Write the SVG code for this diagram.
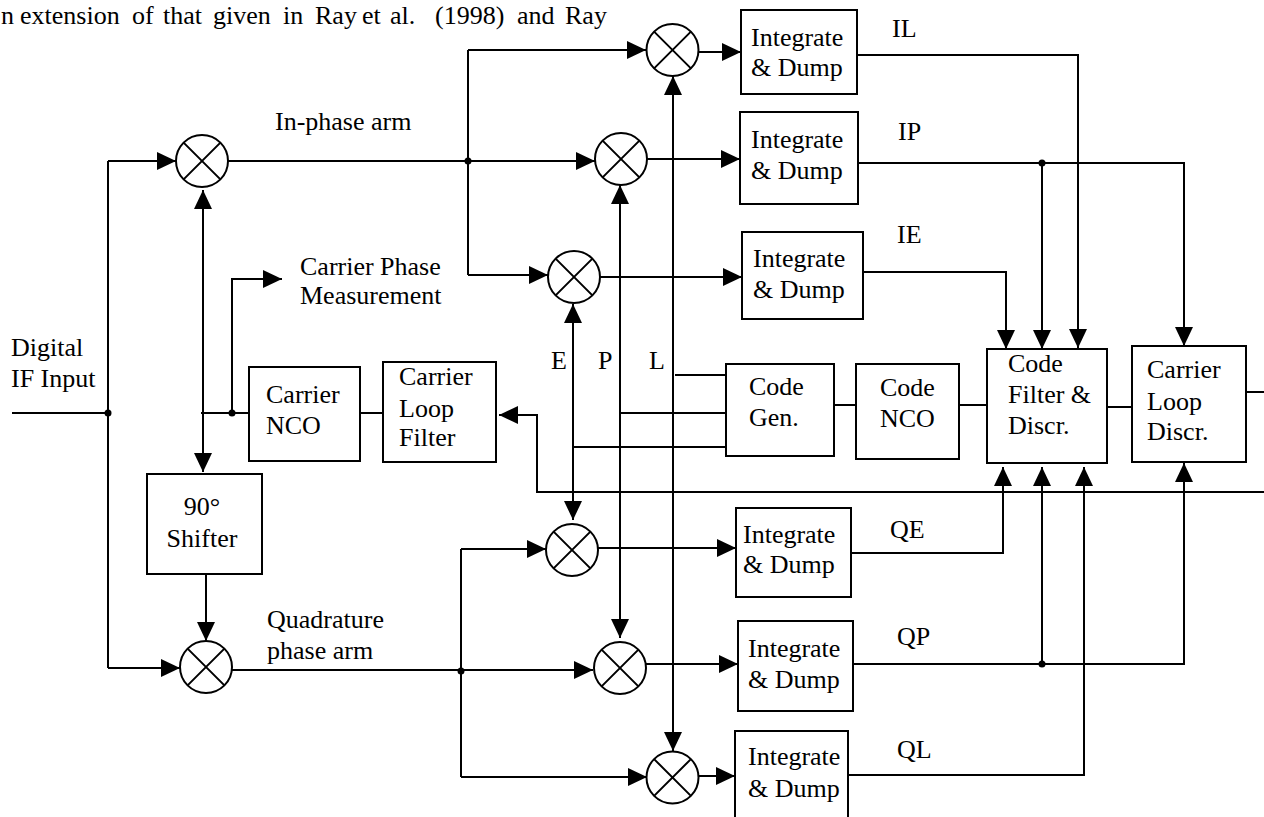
<svg xmlns="http://www.w3.org/2000/svg" width="1264" height="817" viewBox="0 0 1264 817">
<style>
text{font-family:"Liberation Serif","Times New Roman",serif;font-size:26px;fill:#000}
.box{fill:#fff;stroke:#000;stroke-width:2}
.mix{fill:#fff;stroke:#000;stroke-width:2}
.x{stroke:#000;stroke-width:2;fill:none}
.w{fill:none;stroke:#000;stroke-width:2}
.a{fill:none;stroke:#000;stroke-width:2;marker-end:url(#ah)}
.d{fill:none;stroke:#000;stroke-width:2;marker-end:url(#ah);marker-start:url(#ah)}
.dot{fill:#000}
</style>
<defs>
<marker id="ah" markerUnits="userSpaceOnUse" markerWidth="20" markerHeight="18" refX="19" refY="9" orient="auto-start-reverse"><path d="M0,0 L19,9 L0,18 z" fill="#000"/></marker>
<g id="mixer"><circle class="mix" cx="0" cy="0" r="26"/><path class="x" d="M-18.4,-18.4 L18.4,18.4 M-18.4,18.4 L18.4,-18.4"/></g>
</defs>
<text id="caption" y="24"><tspan x="1">n</tspan><tspan x="20">extension</tspan><tspan x="132">of</tspan><tspan x="163">that</tspan><tspan x="213">given</tspan><tspan x="283">in</tspan><tspan x="315">Ray</tspan><tspan x="362">et</tspan><tspan x="390">al.</tspan><tspan x="435">(1998)</tspan><tspan x="517">and</tspan><tspan x="565">Ray</tspan></text>
<g id="connectors">
<path class="w" d="M12,413 H108"/>
<path class="w" d="M108,161 V668"/>
<path class="a" d="M108,161 H176"/>
<path class="a" d="M108,668 H180"/>
<path class="d" d="M203,190 V472"/>
<path class="w" d="M201,413 H249"/>
<path class="a" d="M232,413 V279 H282"/>
<path class="w" d="M360,413 H383"/>
<path class="a" d="M206,574 V641"/>
<path class="w" d="M228,161 H468"/>
<path class="a" d="M468,161 H595"/>
<path class="w" d="M468,50 V275"/>
<path class="a" d="M468,50 H646"/>
<path class="a" d="M468,275 H548"/>
<path class="a" d="M699,52 H741"/>
<path class="a" d="M647,159 H740"/>
<path class="a" d="M600,277 H742"/>
<path class="w" d="M232,670 H461"/>
<path class="a" d="M461,670 H593"/>
<path class="w" d="M461,549 V777"/>
<path class="a" d="M461,549 H546"/>
<path class="a" d="M461,777 H647"/>
<path class="a" d="M598,548 H736"/>
<path class="a" d="M646,664 H738"/>
<path class="a" d="M698,776 H735"/>
<path class="d" d="M573,304 V520"/>
<path class="d" d="M620,185 V638"/>
<path class="d" d="M673,76 V751"/>
<path class="w" d="M573,447 H726"/>
<path class="w" d="M620,413 H726"/>
<path class="w" d="M675,375 H726"/>
<path class="w" d="M834,405 H856"/>
<path class="w" d="M959,405 H987"/>
<path class="w" d="M1107,407 H1132"/>
<path class="w" d="M1246,392 H1264"/>
<path class="a" d="M1264,492 H537 V415 H499"/>
<path class="a" d="M857,55 H1078 V348"/>
<path class="a" d="M858,163 H1184 V346"/>
<path class="a" d="M1042,163 V349"/>
<path class="a" d="M863,272 H1006 V349"/>
<path class="a" d="M851,553 H1003 V467"/>
<path class="a" d="M853,664 H1184 V463"/>
<path class="a" d="M1042,664 V467"/>
<path class="a" d="M848,775 H1084 V467"/>
<circle class="dot" cx="108" cy="413" r="3.5"/>
<circle class="dot" cx="232" cy="413" r="3.5"/>
<circle class="dot" cx="468" cy="161" r="3.5"/>
<circle class="dot" cx="461" cy="671" r="3.5"/>
<circle class="dot" cx="1042" cy="163" r="3.5"/>
<circle class="dot" cx="1042" cy="664" r="3.5"/>
</g>
<g id="mixerI"><use href="#mixer" x="202" y="161"/></g>
<g id="mixerQ"><use href="#mixer" x="206" y="667"/></g>
<g id="mixerIL"><use href="#mixer" x="672.5" y="50"/></g>
<g id="mixerIP"><use href="#mixer" x="621" y="159"/></g>
<g id="mixerIE"><use href="#mixer" x="574" y="277"/></g>
<g id="mixerQE"><use href="#mixer" x="572" y="550"/></g>
<g id="mixerQP"><use href="#mixer" x="620" y="668"/></g>
<g id="mixerQL"><use href="#mixer" x="672.5" y="777.5"/></g>
<g id="shifter"><rect class="box" x="147" y="474" width="115" height="100"/><text x="202" y="515" text-anchor="middle">90°</text><text x="202" y="547" text-anchor="middle">Shifter</text></g>
<g id="carrierNCO"><rect class="box" x="249" y="367" width="111" height="94"/><text x="266" y="403">Carrier</text><text x="266" y="434">NCO</text></g>
<g id="carrierLoopFilter"><rect class="box" x="383" y="362" width="113" height="100"/><text x="399" y="385">Carrier</text><text x="399" y="417">Loop</text><text x="399" y="446">Filter</text></g>
<g id="carrierPhase"><text x="300" y="275">Carrier Phase</text><text x="300" y="304">Measurement</text></g>
<g id="intIL"><rect class="box" x="741" y="10" width="116" height="84"/><text x="751" y="46">Integrate</text><text x="751" y="76">&amp; Dump</text></g>
<g id="intIP"><rect class="box" x="740" y="112" width="118" height="92"/><text x="751" y="148">Integrate</text><text x="751" y="179">&amp; Dump</text></g>
<g id="intIE"><rect class="box" x="742" y="232" width="121" height="87"/><text x="753" y="267">Integrate</text><text x="753" y="298">&amp; Dump</text></g>
<g id="intQE"><rect class="box" x="736" y="508" width="115" height="89"/><text x="743" y="543">Integrate</text><text x="743" y="573">&amp; Dump</text></g>
<g id="intQP"><rect class="box" x="738" y="621" width="115" height="90"/><text x="748" y="657">Integrate</text><text x="748" y="688">&amp; Dump</text></g>
<g id="intQL"><rect class="box" x="735" y="731" width="113" height="95"/><text x="748" y="765">Integrate</text><text x="748" y="797">&amp; Dump</text></g>
<g id="codeGen"><rect class="box" x="726" y="364" width="108" height="92"/><text x="749" y="395">Code</text><text x="749" y="426">Gen.</text></g>
<g id="codeNCO"><rect class="box" x="856" y="364" width="103" height="95"/><text x="880" y="396">Code</text><text x="880" y="427">NCO</text></g>
<g id="codeFilter"><rect class="box" x="987" y="349" width="120" height="114"/><text x="1008" y="372">Code</text><text x="1008" y="403">Filter &amp;</text><text x="1008" y="434">Discr.</text></g>
<g id="carrierLoopDiscr"><rect class="box" x="1132" y="346" width="114" height="116"/><text x="1147" y="378">Carrier</text><text x="1147" y="410">Loop</text><text x="1147" y="440">Discr.</text></g>
<g id="labels">
<text x="275" y="130">In-phase arm</text>
<text x="267" y="628">Quadrature</text>
<text x="267" y="659">phase arm</text>
<text x="11" y="356">Digital</text>
<text x="11" y="387">IF Input</text>
<text x="551" y="369">E</text>
<text x="598" y="369">P</text>
<text x="649" y="369">L</text>
<text x="892" y="37">IL</text>
<text x="898" y="140">IP</text>
<text x="897" y="243">IE</text>
<text x="890" y="538">QE</text>
<text x="897" y="645">QP</text>
<text x="897" y="758">QL</text>
</g>
</svg>
